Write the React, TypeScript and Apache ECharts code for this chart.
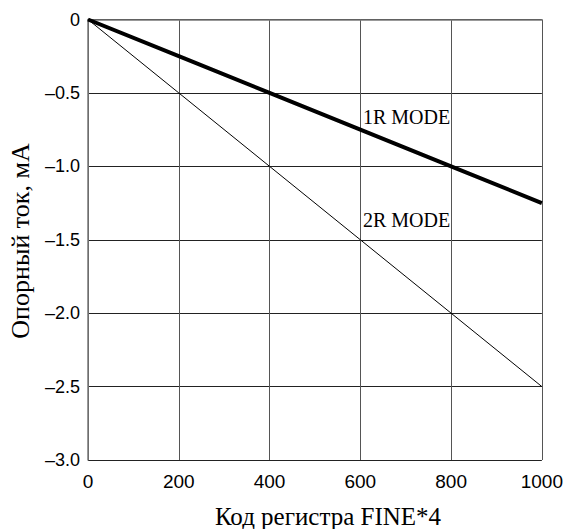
import React, { useEffect, useRef } from "react";
import * as echarts from "echarts";

const codes = [0, 200, 400, 600, 800, 1000];
const mode1R = [0, -0.25, -0.5, -0.75, -1.0, -1.25];
const mode2R = [0, -0.5, -1.0, -1.5, -2.0, -2.5];
const seriesNames = ["1R MODE", "2R MODE"];
const xTitle = "Код регистра FINE*4";
const yTitle = "Опорный ток, мА";

export default function App() {
  const ref = useRef<HTMLDivElement>(null);
  useEffect(() => {
    if (!ref.current) return;
    const chart = echarts.init(ref.current, null, { renderer: "svg" });
    const serif = "'Liberation Serif', 'Times New Roman', serif";
    const sans = "'Liberation Sans', Arial, sans-serif";
    chart.setOption({
      animation: false,
      backgroundColor: "#fff",
      grid: { left: 88, right: 22, top: 19.5, bottom: 69, containLabel: false },
      xAxis: {
        type: "value",
        min: 0,
        max: 1000,
        interval: 200,
        axisLine: { show: true, lineStyle: { color: "#777", width: 1.5 } },
        axisTick: { show: false },
        axisLabel: {
          color: "#000",
          fontFamily: sans,
          fontSize: 19,
          margin: 12,
          formatter: (v: number) => String(v),
        },
        splitLine: { show: true, lineStyle: { color: "#555", width: 1 } },
      },
      yAxis: {
        type: "value",
        min: -3,
        max: 0,
        interval: 0.5,
        axisLine: { show: true, onZero: false, lineStyle: { color: "#777", width: 1.5 } },
        axisTick: { show: false },
        axisLabel: {
          color: "#000",
          fontFamily: sans,
          fontSize: 18,
          margin: 8,
          formatter: (v: number) => (v === 0 ? "0" : "\u2013" + Math.abs(v).toFixed(1)),
        },
        splitLine: { show: true, lineStyle: { color: "#222", width: 1 } },
      },
      series: [
        {
          name: seriesNames[0],
          type: "line",
          data: codes.map((c, i) => [c, mode1R[i]]),
          symbol: "none",
          lineStyle: { color: "#000", width: 4 },
          z: 5,
        },
        {
          name: seriesNames[1],
          type: "line",
          data: codes.map((c, i) => [c, mode2R[i]]),
          symbol: "none",
          lineStyle: { color: "#000", width: 1 },
          z: 4,
        },
      ],
      graphic: [
        {
          type: "text",
          x: 363,
          y: 116.5,
          style: { text: seriesNames[0], font: `20px ${serif}`, fill: "#000", textAlign: "left", textVerticalAlign: "middle" },
        },
        {
          type: "text",
          x: 363,
          y: 220,
          style: { text: seriesNames[1], font: `20px ${serif}`, fill: "#000", textAlign: "left", textVerticalAlign: "middle" },
        },
        {
          type: "text",
          x: 328,
          y: 516.5,
          style: { text: xTitle, font: `25px ${serif}`, fill: "#000", textAlign: "center", textVerticalAlign: "middle" },
        },
        {
          type: "text",
          x: 20,
          y: 241,
          rotation: Math.PI / 2,
          style: { text: yTitle, font: `26px ${serif}`, fill: "#000", textAlign: "center", textVerticalAlign: "middle" },
        },
      ],
    });
    return () => chart.dispose();
  }, []);
  return <div ref={ref} style={{ width: 566, height: 529, position: "absolute", left: 0, top: 0 }} />;
}
